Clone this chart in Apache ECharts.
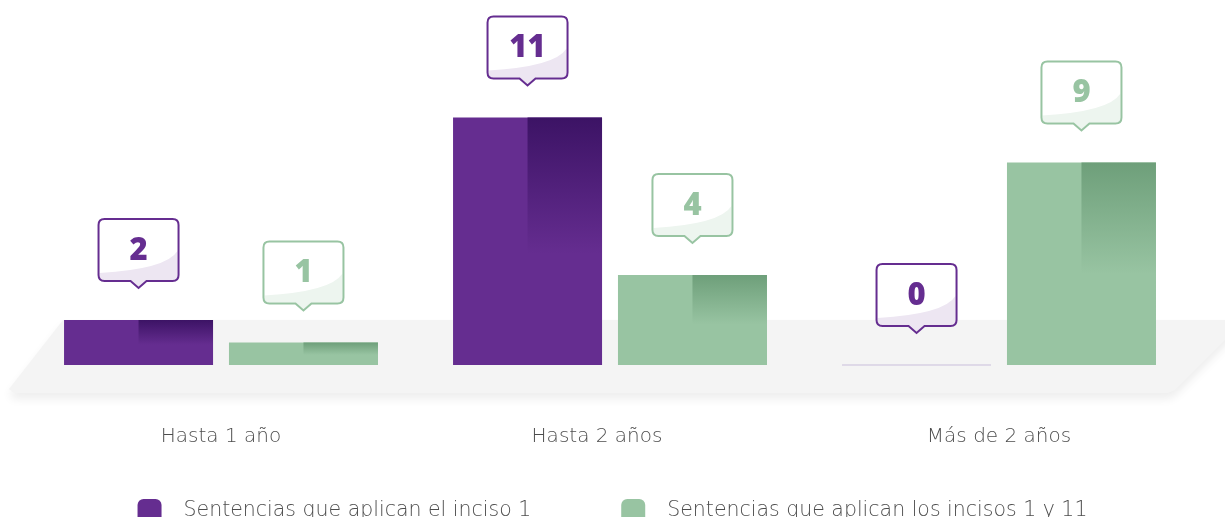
<!DOCTYPE html>
<html>
<head>
<meta charset="utf-8">
<script src="https://cdn.jsdelivr.net/npm/echarts@6/dist/echarts.min.js"></script>
<style>
html,body{margin:0;padding:0;background:#fff;}
#main{width:1225px;height:517px;}
</style>
</head>
<body>
<div id="main"></div>
<script>
const categories = ['Hasta 1 año', 'Hasta 2 años', 'Más de 2 años'];
const seriesNames = ['Sentencias que aplican el inciso 1', 'Sentencias que aplican los incisos 1 y 11'];
const inciso1 = [2, 11, 0];
const incisos1y11 = [1, 4, 9];

const PURPLE = '#652d90', PURPLE_DARK = '#3c1365', PURPLE_HL = '#ede6f2';
const GREEN = '#98c4a2', GREEN_DARK = '#6e9f7a', GREEN_HL = '#edf5ef';
const BAR_W = 0.383, BAR_GAP = 0.107;
const TEXT_FONT = 'DejaVu Sans';
const TEXT_COLOR = '#4d4d4d';

function makeRender(side, base, dark, hl) {
  return function (params, api) {
    const xi = api.value(0), v = api.value(1);
    const p = api.coord([xi, v]);
    const p0 = api.coord([xi, 0]);
    const band = api.size([1, 0])[0];
    const bw = band * BAR_W;
    const cx = p[0] + side * (bw / 2 + bw * BAR_GAP / 2);
    const left = cx - bw / 2;
    const top = p[1];
    const h = p0[1] - p[1];
    const children = [];
    if (v > 0) {
      children.push({
        type: 'rect',
        shape: { x: cx, y: top, width: bw / 2, height: h },
        style: {
          fill: new echarts.graphic.LinearGradient(0, 0, 0, 1, [
            { offset: 0, color: dark }, { offset: 0.55, color: base }, { offset: 1, color: base }
          ])
        }
      });
    } else {
      children.push({
        type: 'line',
        shape: { x1: left, y1: p0[1], x2: left + bw, y2: p0[1] },
        style: { stroke: '#c9bedb', lineWidth: 1 }
      });
    }
    const tx = cx, ty = top - 32;
    const bx0 = tx - 40, bx1 = tx + 40, by0 = ty - 69, by1 = ty - 7, r = 6;
    const box = `M${bx0 + r},${by0} L${bx1 - r},${by0} Q${bx1},${by0} ${bx1},${by0 + r} L${bx1},${by1 - r} Q${bx1},${by1} ${bx1 - r},${by1} L${tx + 8},${by1} L${tx},${ty} L${tx - 8},${by1} L${bx0 + r},${by1} Q${bx0},${by1} ${bx0},${by1 - r} L${bx0},${by0 + r} Q${bx0},${by0} ${bx0 + r},${by0} Z`;
    const yA = by0 + 54, yB = by0 + 32;
    const hlPath = `M${bx0 + 1},${yA} Q${tx + 28},${yA - 4} ${bx1 - 1},${yB} L${bx1 - 1},${by1 - 5} Q${bx1 - 1},${by1 - 1} ${bx1 - 5},${by1 - 1} L${tx + 8},${by1 - 1} L${tx},${ty - 1} L${tx - 8},${by1 - 1} L${bx0 + 5},${by1 - 1} Q${bx0 + 1},${by1 - 1} ${bx0 + 1},${by1 - 5} Z`;
    children.push({ type: 'path', shape: { pathData: box }, style: { fill: '#ffffff', stroke: null } });
    children.push({ type: 'path', shape: { pathData: hlPath }, style: { fill: hl, stroke: null } });
    children.push({ type: 'path', shape: { pathData: box }, style: { fill: null, stroke: base, lineWidth: 2 } });
    children.push({
      type: 'text',
      style: {
        text: String(v), x: tx, y: by0 + 32,
        textAlign: 'center', textVerticalAlign: 'middle', align: 'center', verticalAlign: 'middle',
        fill: base, fontSize: 31, fontWeight: 800, fontFamily: 'Open Sans'
      }
    });
    return { type: 'group', children: children };
  };
}

const chart = echarts.init(document.getElementById('main'));
chart.setOption({
  backgroundColor: '#ffffff',
  animation: false,
  graphic: [{
    type: 'polygon',
    z: -10,
    shape: { points: [[63, 320], [1245, 320], [1175, 390], [1168, 393], [14, 393], [9, 389]] },
    style: { fill: '#f4f4f4', shadowColor: 'rgba(0,0,0,0.07)', shadowBlur: 10, shadowOffsetY: 6 }
  }],
  grid: { left: 26.5, right: 31.5, top: 95, bottom: 152 },
  xAxis: {
    type: 'category',
    data: categories,
    axisLine: { show: false },
    axisTick: { show: false },
    axisLabel: {
      margin: 62, fontSize: 20, color: TEXT_COLOR, fontFamily: TEXT_FONT, fontWeight: 300,
      formatter: function (val, idx) { return idx === 1 ? '{m|' + val + '}' : val; },
      rich: { m: { fontSize: 20, color: TEXT_COLOR, fontFamily: TEXT_FONT, fontWeight: 300, padding: [0, 26, 0, 0] } }
    }
  },
  yAxis: { type: 'value', min: 0, max: 12, show: false, splitLine: { show: false } },
  legend: {
    top: 494,
    left: 'center',
    icon: 'roundRect',
    itemWidth: 24,
    itemHeight: 24,
    itemGap: 90,
    textStyle: { fontSize: 20.5, color: TEXT_COLOR, fontFamily: TEXT_FONT, fontWeight: 300, padding: [0, 0, 0, 17] },
    data: seriesNames
  },
  series: [
    { name: seriesNames[0], type: 'bar', data: inciso1, barWidth: (BAR_W * 100) + '%', barGap: (BAR_GAP * 100) + '%', itemStyle: { color: PURPLE } },
    { name: seriesNames[1], type: 'bar', data: incisos1y11, barWidth: (BAR_W * 100) + '%', itemStyle: { color: GREEN } },
    { type: 'custom', z: 5, renderItem: makeRender(-1, PURPLE, PURPLE_DARK, PURPLE_HL), data: inciso1.map((v, i) => [i, v]), silent: true },
    { type: 'custom', z: 5, renderItem: makeRender(1, GREEN, GREEN_DARK, GREEN_HL), data: incisos1y11.map((v, i) => [i, v]), silent: true }
  ]
});
</script>
</body>
</html>
